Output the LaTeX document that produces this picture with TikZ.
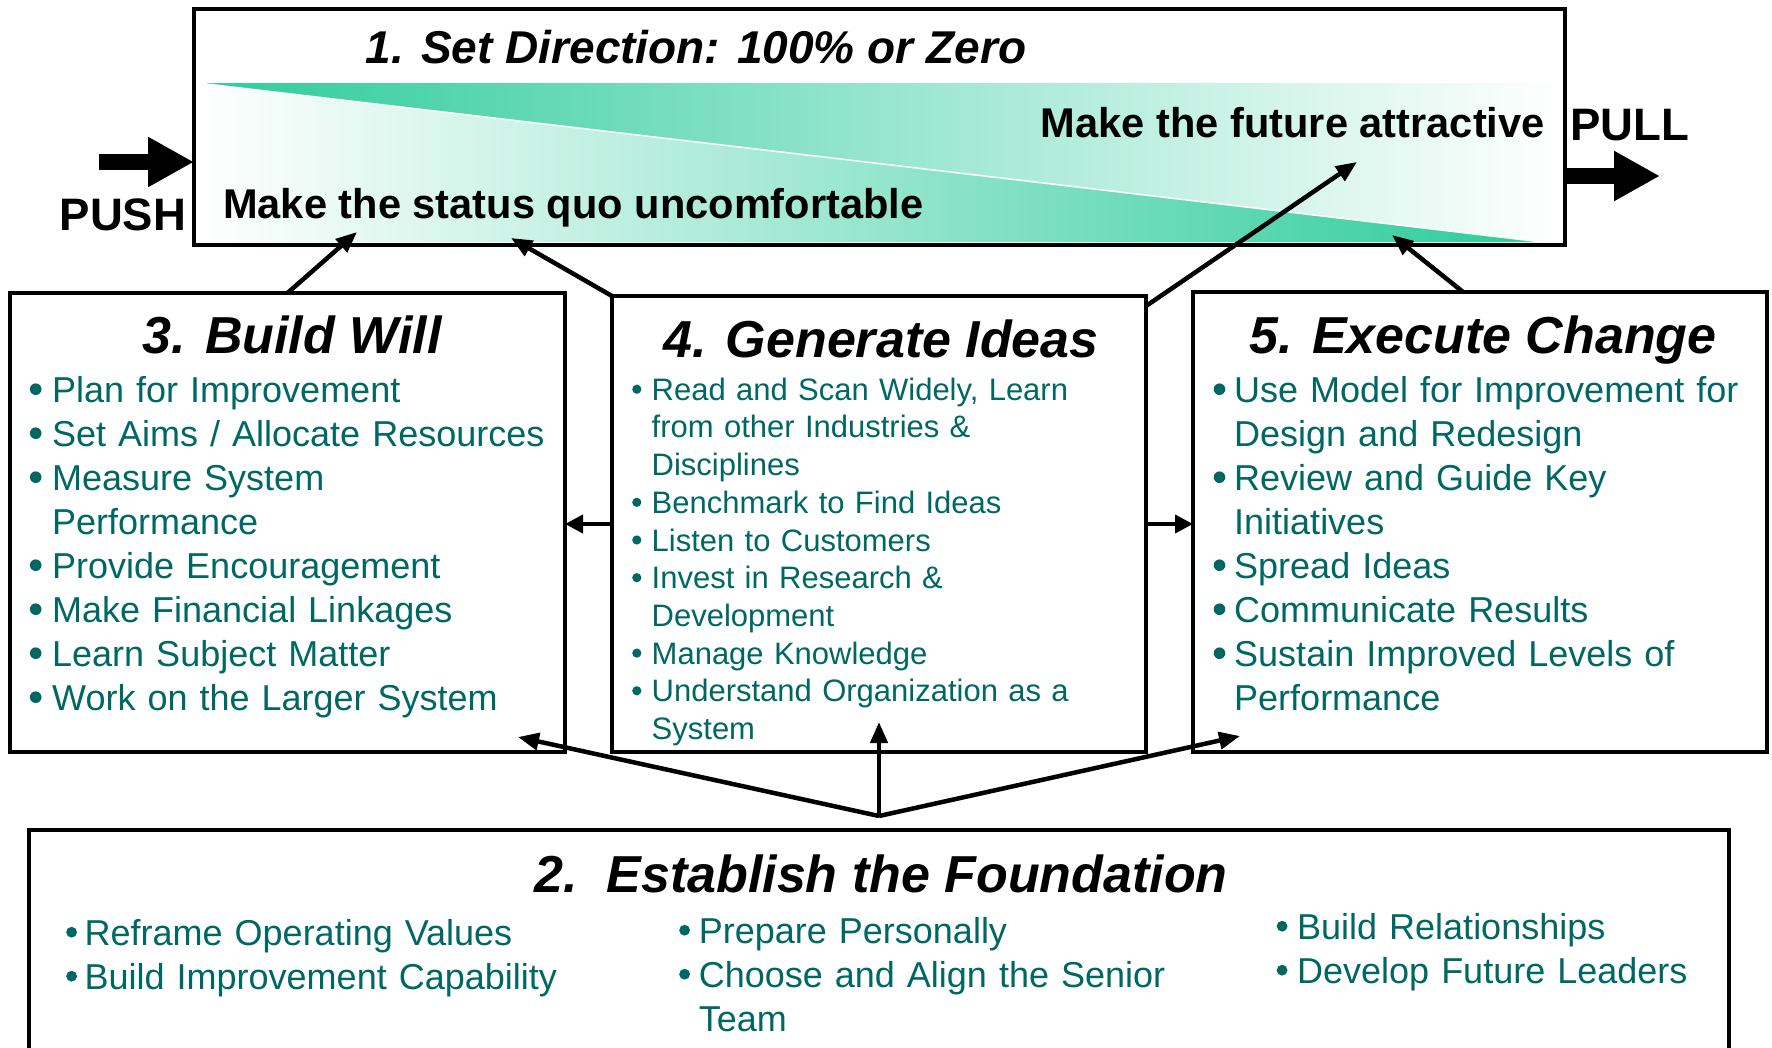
\documentclass[tikz,border=0pt]{standalone}
\usepackage{fontspec}
\setmainfont{Liberation Sans}
\usetikzlibrary{arrows.meta,calc}
\definecolor{bandteal}{RGB}{46,204,154}
\definecolor{txtteal}{RGB}{0,104,100}
\newlength{\bindent}
\newlength{\bstrut}
\newlength{\brad}
\newlength{\braise}
\newcommand{\bdot}{\tikz[x=1cm,y=1cm,baseline={(0pt,-\braise)}]\fill[txtteal] (0pt,0pt) circle[radius=\brad];}
\newcommand{\bitem}[1]{\par\noindent\hangindent=\bindent\hangafter=1\makebox[\bindent][l]{\rule{0pt}{\bstrut}\bdot}#1}
\begin{document}
\begin{tikzpicture}[x=1pt,y=-1pt,
  box/.style={draw=black, line width=4pt, fill=white, inner sep=0pt, outer sep=0pt},
  heading/.style={anchor=base, inner sep=0pt, font=\fontsize{52pt}{60pt}\selectfont\bfseries\itshape},
  slogan/.style={inner sep=0pt, font=\fontsize{41.6pt}{48pt}\selectfont\bfseries},
  pp/.style={anchor=base, inner sep=0pt, font=\fontsize{45.5pt}{52pt}\selectfont\bfseries},
  blist/.style={anchor=north west, inner sep=0pt, align=left, text=txtteal, text width=#1},
  big/.style={font=\fontsize{36pt}{44pt}\selectfont},
  small/.style={font=\fontsize{31pt}{37.7pt}\selectfont},
  conn/.style={line width=4.5pt, -{Triangle[length=21pt,width=17pt]}},
  conn2/.style={line width=4pt, -{Triangle[length=18pt,width=18pt]}},
  blockarrow/.style={line width=16pt, -{Triangle[length=46pt,width=47pt]}}
]
\useasboundingbox (0,0) rectangle (1772,1047);
\clip (0,0) rectangle (1772,1047);

% boxes
\node[box, minimum width=1371pt, minimum height=236pt] (setdir) at (879.5,126.5) {};
\node[box, minimum width=555pt, minimum height=459pt] (buildwill) at (287.5,522.5) {};
\node[box, minimum width=534pt, minimum height=456pt] (genideas) at (879,524) {};
\node[box, minimum width=574pt, minimum height=460pt] (execchange) at (1480,522) {};
\node[box, minimum width=1700pt, minimum height=250pt] (foundation) at (879,955) {};

% gradient band
\shade[left color=bandteal, right color=white] (198,83) -- (1561,83) -- (1561,242) -- (1542,242) -- cycle;
\shade[left color=white, right color=bandteal] (198,83) -- (1542,242) -- (198,242) -- cycle;
\draw[white, line width=1.5pt] (198,83) -- (1542,242);

% headings
\node[heading, font=\fontsize{46pt}{52pt}\selectfont\bfseries\itshape] (t1) at (696,63) {1. Set Direction: 100\% or Zero};
\node[heading] (t3) at (292,353) {3. Build Will};
\node[heading] (t4) at (881,357) {4. Generate Ideas};
\node[heading] (t5) at (1483,353) {5. Execute Change};
\node[heading] (t2) at (881,892) {2.\ \ Establish the Foundation};

\node[slogan, anchor=base west] (quo) at (223,218) {Make the status quo uncomfortable};
\node[slogan, anchor=base east] (future) at (1545,137) {Make the future attractive};
\node[pp] (push) at (123,230) {PUSH};
\node[pp] (pull) at (1630,140) {PULL};

% block arrows
\coordinate (pushtail) at (99,162);
\draw[blockarrow] (pushtail) -- (pushtail -| setdir.west);
\coordinate (pulltip) at (1660,176);
\draw[blockarrow] (pulltip -| setdir.east) -- (pulltip);

% lists
\node[blist=530pt, big] (l3) at (29.7,358) {\setlength{\bindent}{22.3pt}\setlength{\bstrut}{30pt}\setlength{\brad}{5.8pt}\setlength{\braise}{13pt}%
\bitem{Plan for Improvement}
\bitem{Set Aims / Allocate Resources}
\bitem{Measure System\newline Performance}
\bitem{Provide Encouragement}
\bitem{Make Financial Linkages}
\bitem{Learn Subject Matter}
\bitem{Work on the Larger System}\par};

\node[blist=500pt, small] (l4) at (632,362.3) {\setlength{\bindent}{19.5pt}\setlength{\bstrut}{26pt}\setlength{\brad}{4.6pt}\setlength{\braise}{11pt}%
\bitem{Read and Scan Widely, Learn\newline from other Industries \&\newline Disciplines}
\bitem{Benchmark to Find Ideas}
\bitem{Listen to Customers}
\bitem{Invest in Research \&\newline Development}
\bitem{Manage Knowledge}
\bitem{Understand Organization as a\newline System}\par};

\node[blist=545pt, big] (l5) at (1213.5,358) {\setlength{\bindent}{20.5pt}\setlength{\bstrut}{30pt}\setlength{\brad}{5.8pt}\setlength{\braise}{13pt}%
\bitem{Use Model for Improvement for\newline Design and Redesign}
\bitem{Review and Guide Key\newline Initiatives}
\bitem{Spread Ideas}
\bitem{Communicate Results}
\bitem{Sustain Improved Levels of\newline Performance}\par};

\node[blist=560pt, big] (l2a) at (66,901) {\setlength{\bindent}{18.5pt}\setlength{\bstrut}{30pt}\setlength{\brad}{5.4pt}\setlength{\braise}{13pt}%
\bitem{Reframe Operating Values}
\bitem{Build Improvement Capability}\par};
\node[blist=560pt, big] (l2b) at (679,899) {\setlength{\bindent}{19.7pt}\setlength{\bstrut}{30pt}\setlength{\brad}{5.4pt}\setlength{\braise}{13pt}%
\bitem{Prepare Personally}
\bitem{Choose and Align the Senior\newline Team}\par};
\node[blist=450pt, big] (l2c) at (1276.5,895) {\setlength{\bindent}{20.5pt}\setlength{\bstrut}{30pt}\setlength{\brad}{5.4pt}\setlength{\braise}{13pt}%
\bitem{Build Relationships}
\bitem{Develop Future Leaders}\par};

% connectors
\coordinate (a1) at (357,232);
\coordinate (a2) at (511,238);
\coordinate (a3) at (1357,162);
\coordinate (a4) at (1392,235);
\draw[conn] (buildwill.north) -- (a1);
\draw[conn] (genideas.north west) -- (a2);
\draw[conn] ([yshift=-10pt]genideas.north east) -- (a3);
\draw[conn] ([xshift=-17pt]execchange.north) -- (a4);
\draw[conn2] (genideas.west) -- (genideas.west -| buildwill.east);
\draw[conn2] (genideas.east) -- (genideas.east -| execchange.west);

\coordinate (apex) at ([yshift=14pt]foundation.north);
\coordinate (f3) at (518,737);
\coordinate (f4) at (879,722);
\coordinate (f5) at (1240,736);
\draw[conn] (apex) -- (f3);
\draw[conn] (apex) -- (f4);
\draw[conn] (apex) -- (f5);
\end{tikzpicture}
\end{document}
